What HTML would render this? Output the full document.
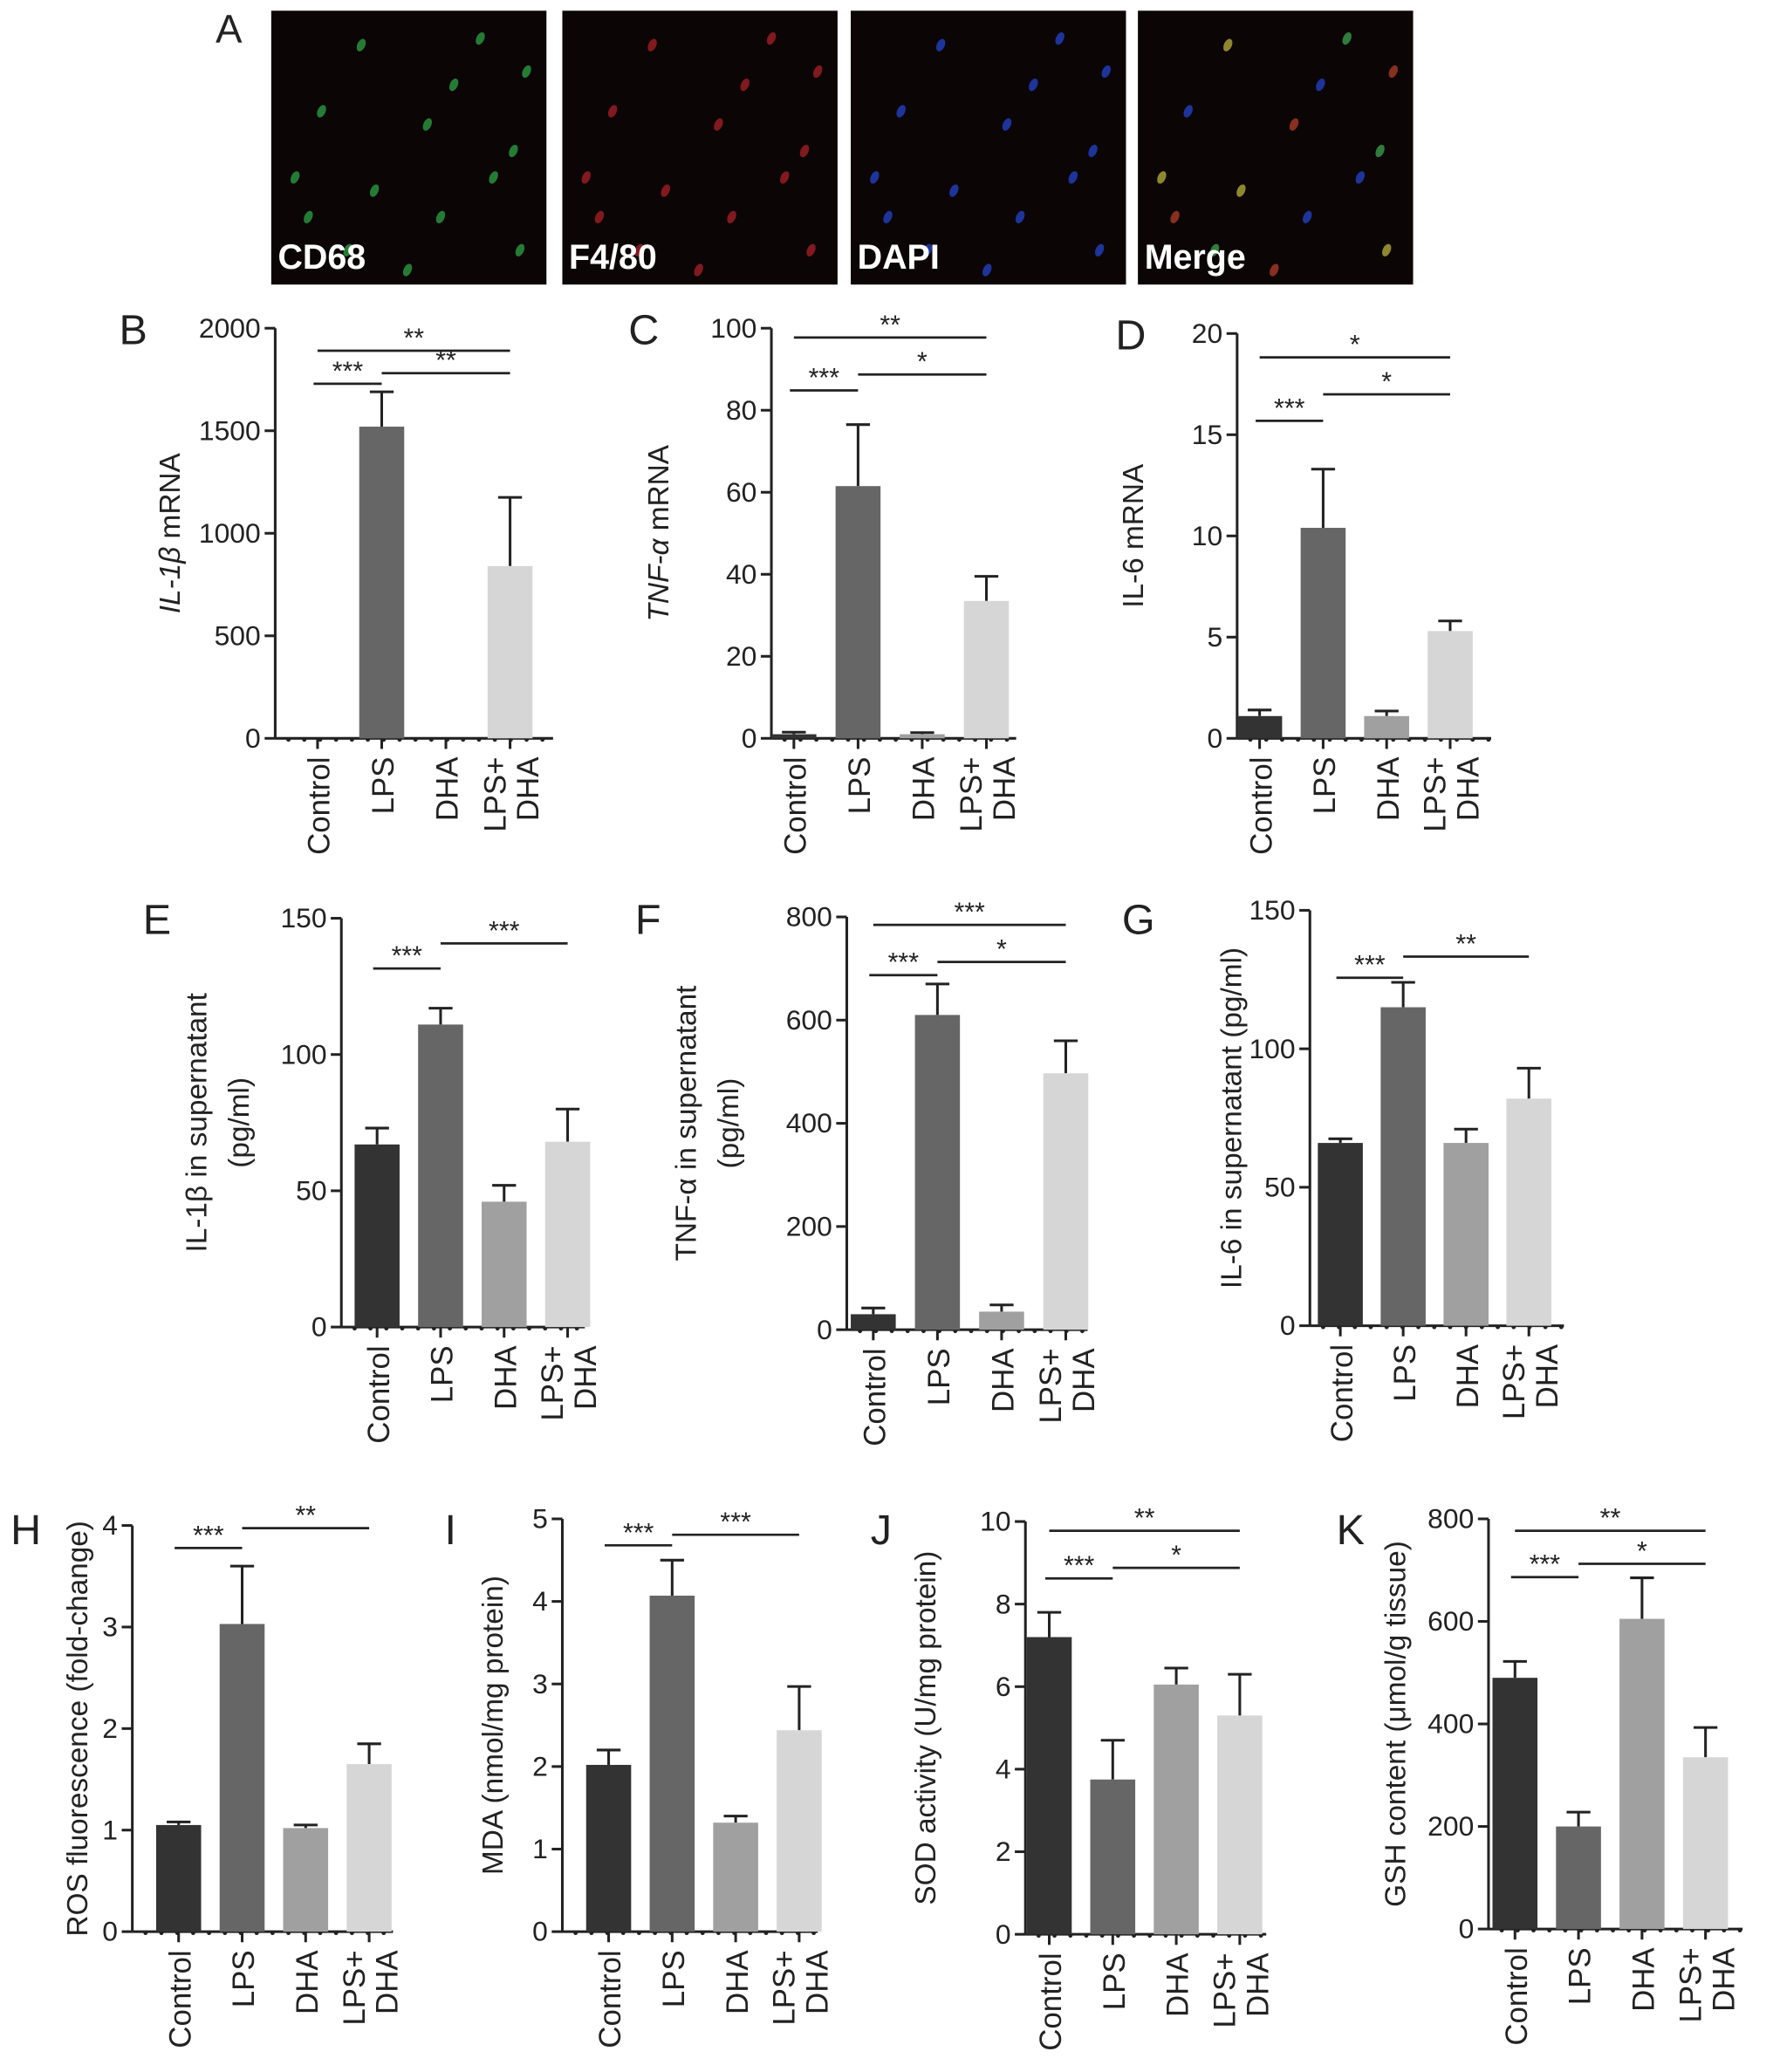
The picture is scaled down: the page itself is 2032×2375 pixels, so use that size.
<!DOCTYPE html>
<html><head><meta charset="utf-8"><style>
html,body{margin:0;padding:0;background:#fff;}
svg{display:block;}
text{font-family:"Liberation Sans",sans-serif;fill:#222;}
</style></head><body>
<svg id="fig" width="2032" height="2375" viewBox="0 0 1340 1566" xmlns="http://www.w3.org/2000/svg">
<g id="panelA"></g>
<g id="charts"></g>
</svg>
<script>
const NS="http://www.w3.org/2000/svg";
function mk(tag,attrs,parent,txt){const e=document.createElementNS(NS,tag);for(const k in attrs)e.setAttribute(k,attrs[k]);if(txt!==undefined)e.textContent=txt;parent.appendChild(e);return e;}

// ---------- data ----------
const categories=["Control","LPS","DHA","LPS+ DHA"];
const barColors=["#333333","#666666","#a0a0a0","#d6d6d6"];
const valsB=[0,1520,0,840];     const errB=[0,1690,0,1175];
const valsC=[1,61.5,1,33.5];    const errC=[1.5,76.5,1.4,39.5];
const valsD=[1.1,10.4,1.1,5.3]; const errD=[1.4,13.3,1.35,5.8];
const valsE=[67,111,46,68];     const errE=[73,117,52,80];
const valsF=[30,610,35,497];    const errF=[42,670,48,560];
const valsG=[66,115,66,82];     const errG=[67.5,124,71,93];
const valsH=[1.05,3.03,1.02,1.65]; const errH=[1.08,3.6,1.05,1.85];
const valsI=[2.02,4.07,1.32,2.44]; const errI=[2.2,4.5,1.4,2.97];
const valsJ=[7.2,3.75,6.05,5.3];   const errJ=[7.8,4.7,6.45,6.3];
const valsK=[490,200,605,335];     const errK=[522,228,685,393];
const ticksB=[0,500,1000,1500,2000];
const ticksC=[0,20,40,60,80,100];
const ticksD=[0,5,10,15,20];
const ticksE=[0,50,100,150];
const ticksF=[0,200,400,600,800];
const ticksG=[0,50,100,150];
const ticksH=[0,1,2,3,4];
const ticksI=[0,1,2,3,4,5];
const ticksJ=[0,2,4,6,8,10];
const ticksK=[0,200,400,600,800];
const sigB=[[0,3,"**"],[0,1,"***"],[1,3,"**"]];
const sigC=[[0,3,"**"],[0,1,"***"],[1,3,"*"]];
const sigD=[[0,3,"*"],[0,1,"***"],[1,3,"*"]];
const sigE=[[0,1,"***"],[1,3,"***"]];
const sigF=[[0,3,"***"],[0,1,"***"],[1,3,"*"]];
const sigG=[[0,1,"***"],[1,3,"**"]];
const sigH=[[0,1,"***"],[1,3,"**"]];
const sigI=[[0,1,"***"],[1,3,"***"]];
const sigJ=[[0,3,"**"],[0,1,"***"],[1,3,"*"]];
const sigK=[[0,3,"**"],[0,1,"***"],[1,3,"*"]];

// ---------- layout ----------
const panels=[
 {id:"B",vals:valsB,err:errB,ticks:ticksB,sig:sigB,ax:208,y0:558,yT:248,xEnd:418,c0:240,dc:48.5,lab:[90,260],title:[["IL-1β"," mRNA"]],tx:[136],sigY:[265,290,282]},
 {id:"C",vals:valsC,err:errC,ticks:ticksC,sig:sigC,ax:583,y0:558,yT:248,xEnd:768,c0:600,dc:48.5,lab:[475,260],title:[["TNF-α"," mRNA"]],tx:[505],sigY:[255,295,283]},
 {id:"D",vals:valsD,err:errD,ticks:ticksD,sig:sigD,ax:935,y0:558,yT:252,xEnd:1127,c0:952,dc:48,lab:[843,264],title:["IL-6 mRNA"],tx:[864],sigY:[270,318,298]},
 {id:"E",vals:valsE,err:errE,ticks:ticksE,sig:sigE,ax:258,y0:1003,yT:694,xEnd:442,c0:285,dc:48,lab:[108,706],title:["IL-1β in supernatant","(pg/ml)"],tx:[156,188],sigY:[0,732,713]},
 {id:"F",vals:valsF,err:errF,ticks:ticksF,sig:sigF,ax:640,y0:1005,yT:693,xEnd:822,c0:660,dc:48.5,lab:[480,706],title:["TNF-α in supernatant","(pg/ml)"],tx:[526,558],sigY:[699,737,727]},
 {id:"G",vals:valsG,err:errG,ticks:ticksG,sig:sigG,ax:990,y0:1002,yT:688,xEnd:1182,c0:1013,dc:47.5,lab:[848,706],title:["IL-6 in supernatant (pg/ml)"],tx:[938],sigY:[0,739,723]},
 {id:"H",vals:valsH,err:errH,ticks:ticksH,sig:sigH,ax:100,y0:1460,yT:1153,xEnd:297,c0:135,dc:48,lab:[8,1167],title:["ROS fluorescence (fold-change)"],tx:[66],sigY:[0,1170,1155]},
 {id:"I",vals:valsI,err:errI,ticks:ticksI,sig:sigI,ax:425,y0:1460,yT:1148,xEnd:618,c0:460,dc:48,lab:[336,1167],title:["MDA (nmol/mg protein)"],tx:[380],sigY:[0,1168,1160]},
 {id:"J",vals:valsJ,err:errJ,ticks:ticksJ,sig:sigJ,ax:775,y0:1462,yT:1150,xEnd:957,c0:793,dc:48,lab:[658,1167],title:["SOD activity (U/mg protein)"],tx:[707],sigY:[1157,1193,1185]},
 {id:"K",vals:valsK,err:errK,ticks:ticksK,sig:sigK,ax:1125,y0:1458,yT:1148,xEnd:1317,c0:1145,dc:48,lab:[1010,1167],title:["GSH content (μmol/g tissue)"],tx:[1062],sigY:[1157,1192,1182]}
];

const root=document.getElementById("charts");
panels.forEach(p=>{
 const g=mk("g",{},root);
 
 
 const tmax=p.ticks[p.ticks.length-1];
 const ys=v=>p.y0-(v/tmax)*(p.y0-p.yT);
 const xs=i=>p.c0+i*p.dc;
 const bw=34;
 const lbl=mk("text",{x:p.lab[0],y:p.lab[1],"font-size":32},g,p.id);
 
 
 const ya=mk("line",{x1:p.ax,y1:p.yT,x2:p.ax,y2:p.y0,stroke:"#222","stroke-width":2},g);
 
 
 p.ticks.forEach(t=>{
  mk("line",{x1:p.ax-8,y1:ys(t),x2:p.ax,y2:ys(t),stroke:"#222","stroke-width":2},g);
  const tl=mk("text",{x:p.ax-11,y:ys(t)+7,"font-size":21,"text-anchor":"end"},g,String(t));
  
  
 });
 const xa=mk("line",{x1:p.ax,y1:p.y0,x2:p.xEnd,y2:p.y0,stroke:"#222","stroke-width":2},g);
 
 
 for(let x=p.ax+10;x<p.xEnd;x+=12) mk("circle",{cx:x,cy:p.y0+1,r:1.6,fill:"#222"},g);
 p.vals.forEach((v,i)=>{
  const x=xs(i);
  if(p.err[i]>v){
   mk("line",{x1:x,y1:ys(p.err[i]),x2:x,y2:ys(v),stroke:"#222","stroke-width":2},g);
   mk("line",{x1:x-9,y1:ys(p.err[i]),x2:x+9,y2:ys(p.err[i]),stroke:"#222","stroke-width":2},g);
  }
  const b=mk("rect",{x:x-bw/2,y:ys(v),width:bw,height:Math.max(0,p.y0-ys(v)),fill:barColors[i]},g);
  
  
  mk("line",{x1:x,y1:p.y0,x2:x,y2:p.y0+8,stroke:"#222","stroke-width":2},g);
  const parts=categories[i].split(" ");
  parts.forEach((s,k)=>{
   const off=(k-(parts.length-1)/2)*25;
   const t=mk("text",{x:0,y:0,"font-size":23,"text-anchor":"end",transform:`translate(${x+9+off},${p.y0+14}) rotate(-90)`},g,s);
   
   
  });
 });
 const cy=(p.y0+p.yT)/2;
 p.title.forEach((s,k)=>{
  const t=mk("text",{x:0,y:0,"font-size":22,"text-anchor":"middle",transform:`translate(${p.tx[k]},${cy}) rotate(-90)`},g);
  if(Array.isArray(s)){
   mk("tspan",{"font-style":"italic"},t,s[0]);
   mk("tspan",{},t,s[1]);
  } else t.textContent=s;
  
  
 });
 p.sig.forEach(s=>{
  let yy;
  if(s[0]===0&&s[1]===3) yy=p.sigY[0]; else if(s[1]===1) yy=p.sigY[1]; else yy=p.sigY[2];
  const x1=xs(s[0])-(s[1]===1?3:0), x2=xs(s[1]);
  const l=mk("line",{x1:x1,y1:yy,x2:x2,y2:yy,stroke:"#222","stroke-width":1.8},g);
  
  
  const t=mk("text",{x:(x1+x2)/2,y:yy-3,"font-size":20,"text-anchor":"middle"},g,s[2]);
  
  
 });
});

// ---------- panel A ----------
const A=document.getElementById("panelA");
const al=mk("text",{x:163,y:32,"font-size":30},A,"A");


const imgX=[205,425,643,860];
const imgLabels=["CD68","F4/80","DAPI","Merge"];
const cellColors=[["#2a9a40"],["#a01e26"],["#2240c0"],["#b0a838","#2240c0","#a83a26","#389a48"]];
const cells=[[60,20],[30,70],[110,80],[150,15],[70,130],[160,120],[20,150],[50,175],[180,175],[130,50],[95,190],[175,100],[10,120],[120,150],[185,40]];
imgX.forEach((x,i)=>{
 const g=mk("g",{},A);
 
 
 mk("rect",{x:x,y:8,width:208,height:207,fill:"#0c0506"},g);
 cells.forEach((c,k)=>{
  const col=cellColors[i][k%cellColors[i].length];
  const cx=x+c[0]+8, cy=8+c[1]+6;
  mk("ellipse",{cx:cx,cy:cy,rx:3,ry:5,fill:col,opacity:0.8,transform:`rotate(25 ${cx} ${cy})`},g);
 });
 const t=mk("text",{x:x+5,y:203,"font-size":26,"font-weight":"bold",style:"fill:#fff"},g,imgLabels[i]);
 
 
});
</script>
</body></html>
